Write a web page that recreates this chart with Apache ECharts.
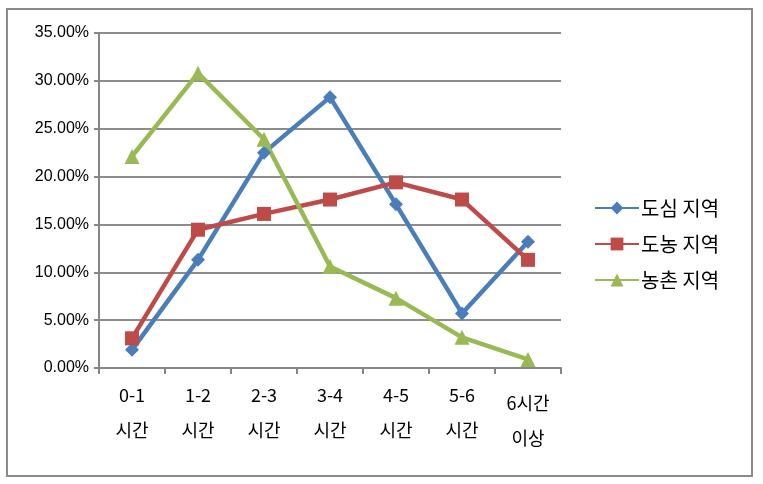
<!DOCTYPE html>
<html><head><meta charset="utf-8">
<script src="https://cdn.jsdelivr.net/npm/echarts@6/dist/echarts.min.js"></script>
<style>html,body{margin:0;padding:0;background:#fff}#c{width:763px;height:484px}</style>
</head><body><div id="c"></div>
<script>
const categories = ['0-1\n시간','1-2\n시간','2-3\n시간','3-4\n시간','4-5\n시간','5-6\n시간','6시간\n이상'];
const seriesNames = ['도심 지역','도농 지역','농촌 지역'];
const urban = [1.9, 11.3, 22.5, 28.3, 17.1, 5.7, 13.2];
const suburban = [3.1, 14.45, 16.1, 17.6, 19.4, 17.6, 11.3];
const rural = [22.1, 30.8, 23.9, 10.6, 7.3, 3.2, 0.9];
const yTicks = {min: 0, max: 35, interval: 5};

const font = '"Liberation Sans", "Noto Sans CJK KR", sans-serif';
const chart = echarts.init(document.getElementById('c'));
chart.setOption({
  animation: false,
  textStyle: {fontFamily: font},
  graphic: [{type:'rect', shape:{x:7,y:9,width:745,height:467}, style:{fill:'none', stroke:'#8a8a8a', lineWidth:2}, z:-1}],
  grid: {left: 99, right: 202, top: 33, bottom: 116},
  legend: {
    orient: 'vertical', left: 589, top: 193, itemWidth: 44, itemHeight: 16, itemGap: 16,
    textStyle: {fontSize: 20, color: '#000', fontFamily: '"Noto Sans CJK KR", sans-serif', padding: [0,0,0,-3]},
    data: seriesNames
  },
  xAxis: {
    type: 'category', boundaryGap: true,
    data: categories.map((c, i) => i === categories.length - 1 ? {value: c, textStyle: {padding: [8,0,0,0]}} : c),
    axisLine: {lineStyle: {color: '#868686', width: 2}},
    axisTick: {show: true, length: 6, lineStyle: {color: '#868686', width: 2}},
    axisLabel: {fontSize: 18, color: '#000', lineHeight: 35, margin: 10, fontFamily: '"Noto Sans CJK KR", sans-serif'}
  },
  yAxis: {
    type: 'value', min: yTicks.min, max: yTicks.max, interval: yTicks.interval,
    axisLine: {show: true, lineStyle: {color: '#868686', width: 2}},
    axisTick: {show: true, length: 5, lineStyle: {color: '#868686', width: 2}},
    splitLine: {lineStyle: {color: '#8c8c8c', width: 2}},
    axisLabel: {fontSize: 16, color: '#000', margin: 10, formatter: v => v.toFixed(2) + '%'}
  },
  series: [
    {name: seriesNames[0], type: 'line', data: urban, symbol: 'diamond', symbolSize: 14,
     lineStyle: {width: 4.5, color: '#4a7ebb'}, itemStyle: {color: '#4a7ebb'}},
    {name: seriesNames[1], type: 'line', data: suburban, symbol: 'rect', symbolSize: 14,
     lineStyle: {width: 4.5, color: '#be4b48'}, itemStyle: {color: '#be4b48'}},
    {name: seriesNames[2], type: 'line', data: rural, symbol: 'triangle', symbolSize: 15,
     lineStyle: {width: 4.5, color: '#98b954'}, itemStyle: {color: '#98b954'}}
  ]
});
</script></body></html>
